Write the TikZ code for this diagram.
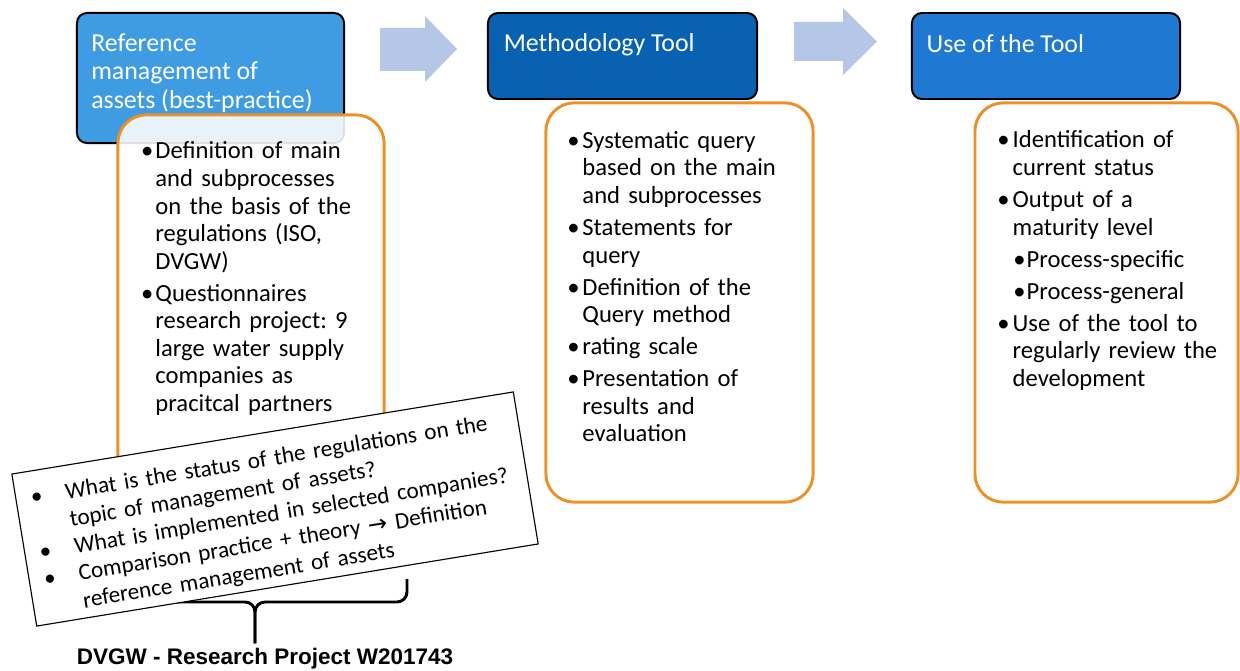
\documentclass[tikz,border=0pt]{standalone}
\usepackage{fontspec}
\setmainfont{Carlito}
\newfontfamily\labelfont{Liberation Sans}
\newfontfamily\arrowfont{DejaVu Sans}
\usepackage{xcolor}
\definecolor{refBlue}{HTML}{3F9BE2}
\definecolor{methodBlue}{HTML}{0861B1}
\definecolor{useBlue}{HTML}{1F78D1}
\definecolor{arrowBlue}{HTML}{B4C7E7}
\definecolor{boxOrange}{HTML}{EB9128}
\usepackage{tikz}
\usetikzlibrary{positioning}
\frenchspacing

% bullet lists inside the boxes
\newlength\bulgap
\setlength\bulgap{3mm}
\newcommand{\itm}[2][0pt]{\par\hangindent=\bulgap\hangafter=1\noindent
  \makebox[\bulgap][l]{\hspace*{-#1}\textbullet}\rule{0pt}{12.5pt}#2}
\newcommand{\subitm}[1]{\par\hangindent=6.5mm\hangafter=1\noindent
  \hspace*{3.2mm}\makebox[3.3mm][l]{\textbullet}#1}

\tikzset{
    % Header boxes - rounded, black outline
    hdr box/.style={
        rectangle,
        rounded corners=2.5mm,
        draw=black,
        line width=1.4pt,
        outer sep=0pt,
    },
    % Header captions - white text
    hdr text/.style={
        anchor=north west,
        inner sep=0pt,
        align=left,
        text=white,
        font=\fontsize{18.4}{20.3}\selectfont,
    },
    % Orange content boxes - almost white fill
    info box/.style={
        rectangle,
        rounded corners=7mm,
        draw=boxOrange,
        line width=2.1pt,
        fill=white,
        fill opacity=0.88,
        outer sep=0pt,
    },
    % Bullet text inside the orange boxes
    list text/.style={
        anchor=north west,
        inner sep=0pt,
        text width=6cm,
        align=left,
        font=\fontsize{17.5}{19.6}\selectfont\setlength{\parskip}{3.2pt},
    },
    % Tilted note with the research questions
    note box/.style={
        rectangle,
        draw=black,
        line width=0.8pt,
        fill=white,
        minimum width=12.7cm,
        minimum height=3.85cm,
        inner xsep=3.75mm,
        inner ysep=0pt,
        text width=11.95cm,
        align=left,
        font=\fontsize{16.5}{19.6}\selectfont\setlength{\bulgap}{8.75mm},
    },
    % Block arrows between the headers
    flow arrow/.style={
        fill=arrowBlue,
    },
    % Curly bracket under the note
    brace line/.style={
        draw=black,
        line width=2.1pt,
        rounded corners=2.5mm,
    },
    % Caption below the bracket
    proj label/.style={
        font=\labelfont\bfseries\fontsize{16}{19}\selectfont,
        inner sep=1mm,
    },
}

\begin{document}
\begin{tikzpicture}[x=0.025cm, y=-0.025cm]
    \useasboundingbox (0,0) rectangle (1240,670);

    % headers
    \node (refHdr) [hdr box, fill=refBlue, minimum width=6.675cm, minimum height=3.25cm] at (210.5,78) {};
    \node (methodHdr) [hdr box, fill=methodBlue, minimum width=6.725cm, minimum height=2.15cm] at (622.5,56) {};
    \node (useHdr) [hdr box, fill=useBlue, minimum width=6.7cm, minimum height=2.15cm] at (1046,56) {};
    \node (refHdrTxt) [hdr text, below right=4.9mm and 3.5mm of refHdr.north west] {\rule{0pt}{13pt}Reference\\management of\\assets (best-practice)};
    \node (methodHdrTxt) [hdr text, below right=5.1mm and 3.9mm of methodHdr.north west] {\rule{0pt}{13pt}Methodology Tool};
    \node (useHdrTxt) [hdr text, below right=5.2mm and 3.6mm of useHdr.north west] {\rule{0pt}{13pt}Use of the Tool};

    % arrows
    \fill[flow arrow] (380,28) -- (425,28) -- (425,16) -- (457,49) -- (425,82) -- (425,71) -- (380,71) -- cycle;
    \fill[flow arrow] (794,22) -- (843,22) -- (843,8) -- (877,41.5) -- (843,75) -- (843,61) -- (794,61) -- cycle;

    % content boxes
    \node (refBox) [info box, minimum width=6.65cm, minimum height=9.675cm] at (251,308.5) {};
    \node (methodBox) [info box, minimum width=6.675cm, minimum height=9.975cm] at (679.5,302.5) {};
    \node (useBox) [info box, minimum width=6.575cm, minimum height=9.975cm] at (1106.5,302.5) {};

    \node (refList) [list text, below right=2.9mm and 7.1mm of refBox.north west] {\setlength{\bulgap}{2.2mm}%
        \itm[1.4mm]{Definition of main\newline and subprocesses\newline on the basis of the\newline regulations (ISO,\newline DVGW)}
        \itm[1.4mm]{Questionnaires\newline research project: 9\newline large water supply\newline companies as\newline pracitcal partners}\par};
    \node (methodList) [list text, below right=3.25mm and 6.05mm of methodBox.north west] {%
        \itm[0.8mm]{Systematic query\newline based on the main\newline and subprocesses}
        \itm[0.8mm]{Statements for\newline query}
        \itm[0.8mm]{Definition of the\newline Query method}
        \itm[0.8mm]{rating scale}
        \itm[0.8mm]{Presentation of\newline results and\newline evaluation}\par};
    \node (useList) [list text, below right=3.15mm and 6.35mm of useBox.north west] {%
        \itm[0.8mm]{Identification of\newline current status}
        \itm[0.8mm]{Output of a\newline maturity level}
        \subitm{Process-specific}
        \subitm{Process-general}
        \itm[0.8mm]{Use of the tool to\newline regularly review the\newline development}\par};

    % bracket and caption
    \node (projLbl) [proj label, anchor=base] at (265,664) {DVGW - Research Project W201743};
    \coordinate (braceL) at (107,579);
    \coordinate (braceR) at (407,579);
    \coordinate (braceMid) at (255,602);
    \draw[brace line] (braceL) |- (braceMid) -- (braceMid |- projLbl.north);
    \draw[brace line] (braceR) |- (braceMid) -- (braceMid |- projLbl.north);

    % tilted note
    \node (questNote) [note box, rotate=9.3] at (275,509) {%
        \itm{What is the status of the regulations on the\newline topic of management of assets?}
        \itm{What is implemented in selected companies?}
        \itm{Comparison practice + theory {\arrowfont →} Definition\newline reference management of assets}\par};
\end{tikzpicture}
\end{document}
